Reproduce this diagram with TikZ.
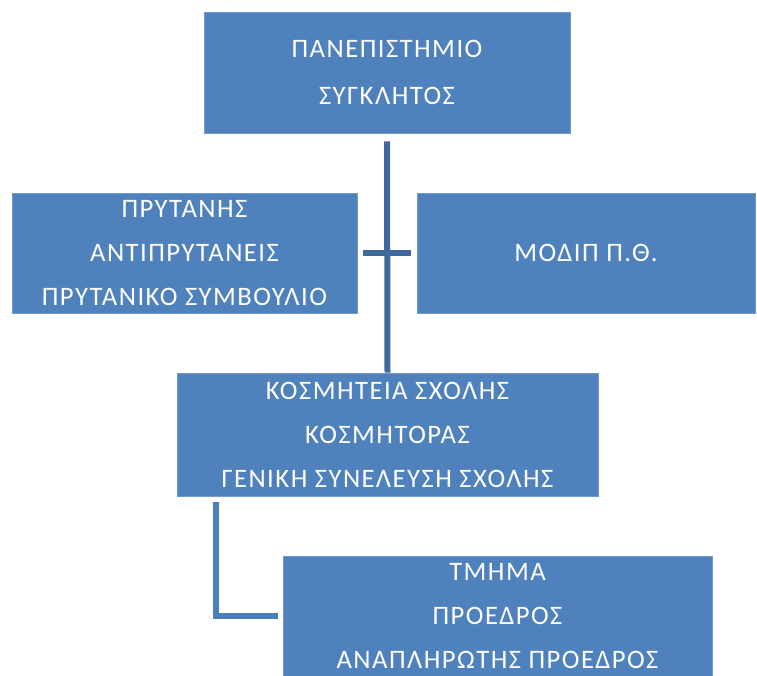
\documentclass[tikz,border=0pt]{standalone}
\usepackage{fontspec}
\setmainfont{Carlito}[LetterSpace=5.5]
\definecolor{boxblue}{HTML}{4F81BD}
\definecolor{crossblue}{HTML}{41689D}
\definecolor{elbowblue}{HTML}{4A7DBA}
\begin{document}
\begin{tikzpicture}[x=0.75pt,y=-0.75pt,
                    unit box/.style={rectangle,fill=boxblue,draw=boxblue!80!white,
                      inner sep=0pt,align=center,text=white,
                      font=\fontsize{20}{33}\selectfont},
                    link/.style={line width=4.5pt,draw=crossblue},
                    elbow link/.style={line width=4.5pt,draw=elbowblue}]

  \useasboundingbox (0,0) rectangle (757,675);

  % Define units
  \node[unit box,minimum width=366*0.75pt,minimum height=121*0.75pt,
        font=\fontsize{20}{35}\selectfont] (uni) at (387,72.5)
    {ΠΑΝΕΠΙΣΤΗΜΙΟ\\ΣΥΓΚΛΗΤΟΣ};
  \node[unit box,minimum width=345*0.75pt,minimum height=120*0.75pt] (rector) at (184.5,253)
    {ΠΡΥΤΑΝΗΣ\\ΑΝΤΙΠΡΥΤΑΝΕΙΣ\\ΠΡΥΤΑΝΙΚΟ ΣΥΜΒΟΥΛΙΟ};
  \node[unit box,minimum width=338*0.75pt,minimum height=120*0.75pt] (modip) at (586,253)
    {ΜΟΔΙΠ Π.Θ.};
  \node[unit box,minimum width=421*0.75pt,minimum height=123*0.75pt] (school) at (387.5,434.5)
    {ΚΟΣΜΗΤΕΙΑ ΣΧΟΛΗΣ\\ΚΟΣΜΗΤΟΡΑΣ\\ΓΕΝΙΚΗ ΣΥΝΕΛΕΥΣΗ ΣΧΟΛΗΣ};
  \node[unit box,minimum width=429*0.75pt,minimum height=121*0.75pt] (dept) at (497.5,616.5)
    {ΤΜΗΜΑ\\ΠΡΟΕΔΡΟΣ\\ΑΝΑΠΛΗΡΩΤΗΣ ΠΡΟΕΔΡΟΣ};

  % Connect units
  \draw[link,shorten <=8*0.75pt] (uni.south) -- (school.north);
  \draw[link,shorten <=6*0.75pt,shorten >=6*0.75pt] (rector.east) -- (modip.west);
  \coordinate (corner) at (216,615.5);
  \draw[elbow link,shorten <=6*0.75pt,shorten >=5*0.75pt]
    (corner |- school.south) -- (corner) -- (dept.west |- corner);

\end{tikzpicture}
\end{document}
